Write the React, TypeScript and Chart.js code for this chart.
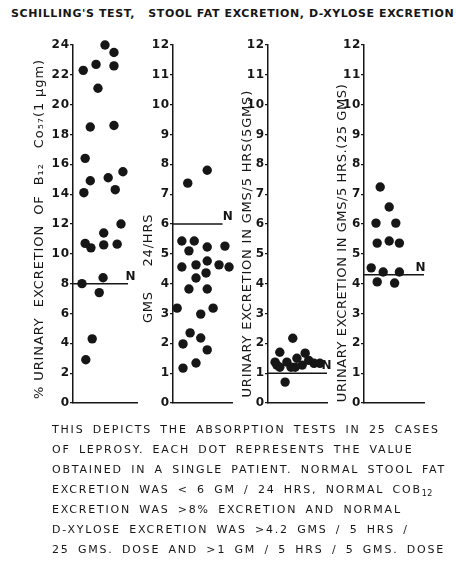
import React, { useEffect, useRef } from 'react';
import { Chart, registerables } from 'chart.js';
Chart.register(...registerables);

// Panel 1: Schilling's test, % urinary excretion of B12
const b12Values = [24.0, 23.5, 22.3, 22.7, 22.6, 21.1, 18.5, 18.6, 16.4, 14.9, 15.1, 15.5, 14.1, 14.3, 12.0, 11.4, 10.7, 10.4, 10.6, 10.65, 8.0, 8.4, 7.4, 4.3, 2.9];
const b12Jitter = [5.0, 6.4, 1.6, 3.6, 6.4, 3.9, 2.7, 6.4, 1.9, 2.7, 5.5, 7.8, 1.7, 6.6, 7.5, 4.8, 1.9, 2.8, 4.8, 6.9, 1.4, 4.7, 4.1, 3.0, 2.0];
const b12Normal = 8;
const b12Ticks = [0, 2, 4, 6, 8, 10, 12, 14, 16, 18, 20, 22, 24];

// Panel 2: stool fat, gms / 24 hrs
const fatValues = [7.37, 7.8, 5.43, 5.43, 5.1, 5.23, 5.26, 4.56, 4.63, 4.76, 4.63, 4.56, 4.19, 4.36, 3.82, 3.82, 3.18, 2.98, 3.18, 2.35, 2.18, 1.98, 1.78, 1.17, 1.34];
const fatJitter = [2.5, 5.8, 1.5, 3.6, 2.7, 5.8, 8.8, 1.5, 3.9, 5.8, 7.8, 9.5, 3.9, 5.6, 2.7, 5.8, 0.7, 4.7, 6.8, 2.9, 4.7, 1.7, 5.8, 1.7, 3.9];
const fatNormal = 6;

// Panel 3: D-xylose, 5 gm dose
const xyl5Values = [2.17, 1.7, 1.37, 1.37, 1.2, 1.2, 1.5, 1.67, 1.27, 1.43, 1.33, 1.33, 0.7, 1.27, 1.2];
const xyl5Jitter = [4.2, 2.0, 1.2, 3.2, 2.0, 3.9, 4.9, 6.3, 5.8, 6.9, 7.8, 8.8, 2.9, 1.5, 4.6];
const xyl5Normal = 1;

// Panel 4: D-xylose, 25 gm dose
const xyl25Values = [7.24, 6.57, 6.03, 6.03, 5.36, 5.43, 5.36, 4.53, 4.39, 4.39, 4.06, 4.02];
const xyl25Jitter = [2.7, 4.2, 2.0, 5.3, 2.2, 4.2, 5.9, 1.2, 3.2, 5.9, 2.2, 5.1];
const xyl25Normal = 4.3;

const gmsTicks = [0, 1, 2, 3, 4, 5, 6, 7, 8, 9, 10, 11, 12];

const heading = "SCHILLING'S TEST,   STOOL FAT EXCRETION, D-XYLOSE EXCRETION";
const titles = [
  '% URINARY  EXCRETION  OF  B\u2081\u2082   Co\u2085\u2087(1 \u00B5gm)',
  'GMS     24/HRS',
  'URINARY EXCRETION IN GMS/5 HRS(5GMS)',
  'URINARY EXCRETION IN GMS/5 HRS.(25 GMS)',
];

const INK = '#161616';
const FONT = "'DejaVu Sans', sans-serif";

type PanelDef = {
  values: number[];
  jitter: number[];
  ticks: number[];
  normal: number;
  normalEnd: number;
  nX: number;
  title: string;
  scaleLeft: number;
  axisX: number;
  rightX: number;
  trail: number;
  spacing: number;
};

const panels: PanelDef[] = [
  { values: b12Values, jitter: b12Jitter, ticks: b12Ticks, normal: b12Normal, normalEnd: 8.6, nX: 9.0, title: titles[0], scaleLeft: 32, axisX: 73, rightX: 137, trail: 2, spacing: 0.9 },
  { values: fatValues, jitter: fatJitter, ticks: gmsTicks, normal: fatNormal, normalEnd: 8.4, nX: 9.3, title: titles[1], scaleLeft: 141, axisX: 173, rightX: 232, trail: 18, spacing: 0.8 },
  { values: xyl5Values, jitter: xyl5Jitter, ticks: gmsTicks, normal: xyl5Normal, normalEnd: 10, nX: 9.9, title: titles[2], scaleLeft: 240, axisX: 268, rightX: 327, trail: 8, spacing: 0.8 },
  { values: xyl25Values, jitter: xyl25Jitter, ticks: gmsTicks, normal: xyl25Normal, normalEnd: 10, nX: 9.4, title: titles[3], scaleLeft: 335, axisX: 364, rightX: 424, trail: 8, spacing: 0.6 },
];

const W = 456;
const H = 562;
const TOP = 45;
const BOTTOM = 403;

function Panel({ p }: { p: PanelDef }) {
  const ref = useRef<HTMLCanvasElement | null>(null);
  useEffect(() => {
    if (!ref.current) return;
    const yMax = p.ticks[p.ticks.length - 1];
    const spacingPlugin = {
      id: 'titleSpacing',
      beforeDraw(chart: any) {
        (chart.ctx as any).letterSpacing = p.spacing + 'px';
      },
      afterDraw(chart: any) {
        (chart.ctx as any).letterSpacing = '0px';
      },
    };
    const nPlugin = {
      id: 'nlabel',
      afterDatasetsDraw(chart: any) {
        const ctx = chart.ctx;
        const xs = chart.scales.x;
        const ys = chart.scales.y;
        ctx.save();
        ctx.letterSpacing = '0px';
        ctx.fillStyle = INK;
        ctx.font = `bold 12px ${FONT}`;
        ctx.textAlign = 'center';
        ctx.textBaseline = 'bottom';
        ctx.fillText('N', xs.getPixelForValue(p.nX), ys.getPixelForValue(p.normal) - 1);
        ctx.restore();
      },
    };
    const chart = new Chart(ref.current, {
      type: 'scatter',
      data: {
        datasets: [
          {
            data: p.values.map((v, i) => ({ x: p.jitter[i], y: v })),
            pointRadius: 4.7,
            pointBackgroundColor: INK,
            pointBorderWidth: 0,
            clip: false,
          } as any,
          {
            type: 'line',
            data: [{ x: 0, y: p.normal }, { x: p.normalEnd, y: p.normal }],
            borderColor: INK,
            borderWidth: 1.5,
            pointRadius: 0,
            clip: false,
          } as any,
        ],
      },
      options: {
        animation: false,
        responsive: false,
        maintainAspectRatio: false,
        events: [],
        layout: { padding: { top: TOP, bottom: H - BOTTOM, left: p.scaleLeft, right: W - p.rightX } },
        plugins: { legend: { display: false }, tooltip: { enabled: false } },
        scales: {
          x: {
            type: 'linear',
            min: 0,
            max: 10,
            ticks: { display: false },
            grid: { drawOnChartArea: false, drawTicks: false },
            border: { display: true, color: INK, width: 1.5 },
            afterFit: (s: any) => { s.height = 0; },
          },
          y: {
            type: 'linear',
            min: 0,
            max: yMax,
            afterBuildTicks: (s: any) => { s.ticks = p.ticks.map((v) => ({ value: v })); },
            ticks: { color: INK, font: { family: FONT, size: 12, weight: 'bold' }, padding: 0 },
            grid: { drawOnChartArea: false, drawTicks: true, tickLength: 3, color: INK, lineWidth: 1.2 },
            border: { display: true, color: INK, width: 1.5 },
            title: {
              display: true,
              text: p.title + ' '.repeat(p.trail),
              color: INK,
              font: { family: FONT, size: 13 },
              padding: 0,
            },
            afterFit: (s: any) => { s.width = p.axisX - p.scaleLeft; },
          },
        },
      } as any,
      plugins: [spacingPlugin, nPlugin],
    });
    return () => chart.destroy();
  }, [p]);
  return (
    <canvas
      ref={ref}
      width={W}
      height={H}
      style={{ position: 'absolute', left: 0, top: 0, width: W, height: H }}
    />
  );
}

const captionLines = [
  'THIS DEPICTS THE ABSORPTION TESTS IN 25 CASES',
  'OF LEPROSY. EACH DOT REPRESENTS THE VALUE',
  'OBTAINED IN A SINGLE PATIENT. NORMAL STOOL FAT',
  'EXCRETION WAS < 6 GM / 24 HRS, NORMAL COB',
  'EXCRETION WAS >8% EXCRETION AND NORMAL',
  'D-XYLOSE EXCRETION WAS >4.2 GMS / 5 HRS /',
  '25 GMS. DOSE AND >1 GM / 5 HRS / 5 GMS. DOSE',
];

export default function App() {
  return (
    <div style={{ position: 'absolute', left: 0, top: 0, width: W, height: H, background: '#fff', overflow: 'hidden', color: INK, fontFamily: FONT }}>
      <div style={{ position: 'absolute', left: 11, top: 6, fontSize: 11, fontWeight: 'bold', letterSpacing: 0.6, whiteSpace: 'pre', lineHeight: '16px' }}>{heading}</div>
      {panels.map((p, i) => <Panel key={i} p={p} />)}
      <div style={{ position: 'absolute', left: 52, top: 420, fontSize: 11, letterSpacing: 1.8, wordSpacing: 3, lineHeight: '20px', whiteSpace: 'pre' }}>
        {captionLines.map((l, i) => (
          <div key={i} style={{ height: 20 }}>
            {l}
            {i === 3 ? <span style={{ fontSize: 8, letterSpacing: 0.5, position: 'relative', top: 3, lineHeight: 0 }}>12</span> : null}
          </div>
        ))}
      </div>
    </div>
  );
}
